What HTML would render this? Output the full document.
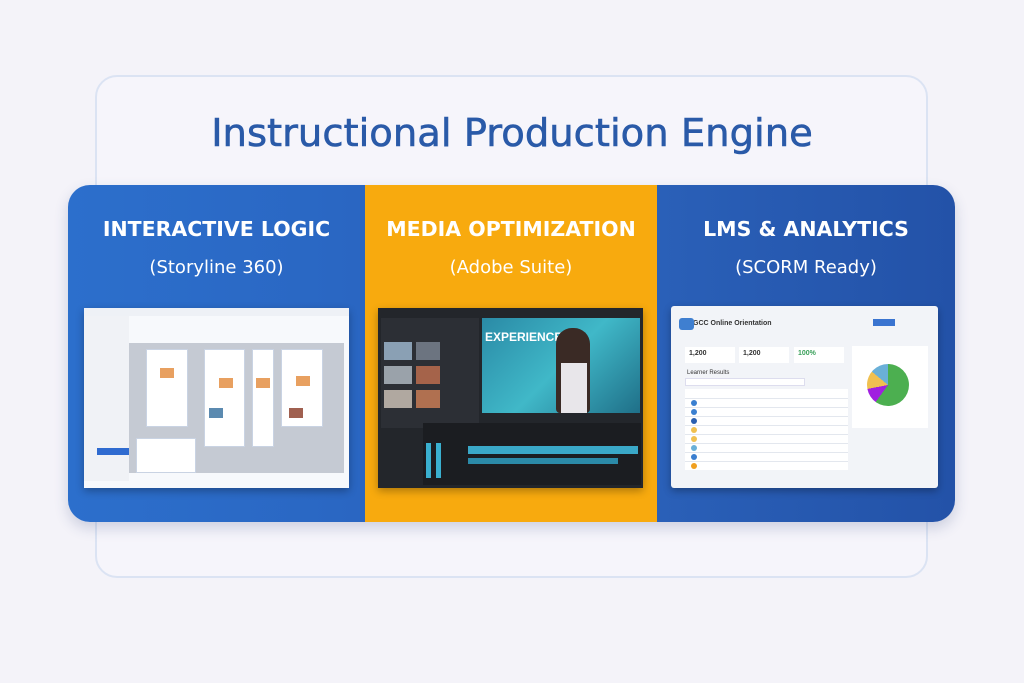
<!DOCTYPE html>
<html><head><meta charset="utf-8"><style>
*{margin:0;padding:0;box-sizing:border-box}
body{width:1024px;height:683px;background:#f4f3f9;position:relative;overflow:hidden;font-family:"Liberation Sans","DejaVu Sans",sans-serif}
.abs{position:absolute}
.outer{left:95px;top:75px;width:833px;height:503px;border:2px solid #dbe3f3;border-radius:22px;background:#f6f5fb}
.title{left:0;width:1024px;top:111px;text-align:center;font-size:38.5px;color:#2a5aa8;font-family:"DejaVu Sans","Liberation Sans",sans-serif;-webkit-text-stroke:0.6px #2a5aa8}
.band{left:68px;top:185px;width:887px;height:337px;border-radius:22px;overflow:hidden;box-shadow:0 6px 14px rgba(40,60,120,.2)}
.p{position:absolute;top:0;height:337px}
.h{position:absolute;width:100%;text-align:center;color:#fff;font-family:"DejaVu Sans",sans-serif;font-weight:bold;font-size:20.5px;top:32px}
.s{position:absolute;width:100%;text-align:center;color:#fff;font-family:"DejaVu Sans",sans-serif;font-size:18px;top:72px}
.shot{position:absolute;box-shadow:0 3px 8px rgba(0,0,0,.3)}
.card{position:absolute;background:#fff;border:1px solid #c9d3e3}
.th{position:absolute;background:#e8a060;width:14px;height:10px}
.row{position:absolute;left:14px;width:163px;height:1px;background:#e3e7ee}
.dot{position:absolute;left:20px;width:6px;height:6px;border-radius:50%}
</style></head><body>
<div class="abs outer"></div>
<div class="abs title">Instructional Production Engine</div>
<div class="abs band">
 <div class="p" style="left:0;width:297px;background:linear-gradient(90deg,#2c6fcc,#2a66c2)">
  <div class="h">INTERACTIVE LOGIC</div><div class="s">(Storyline 360)</div>
  <div class="shot" style="left:16px;top:123px;width:265px;height:180px;background:#f7f9fc">
   <div class="abs" style="left:0;top:0;width:265px;height:8px;background:#eef1f6"></div>
   <div class="abs" style="left:0;top:8px;width:45px;height:165px;background:#f0f2f6"></div>
   <div class="abs" style="left:13px;top:140px;width:32px;height:7px;background:#2f6bd0"></div>
   <div class="abs" style="left:45px;top:35px;width:215px;height:130px;background:#c5cad3"></div>
   <div class="card" style="left:62px;top:41px;width:42px;height:78px"></div>
   <div class="card" style="left:120px;top:41px;width:41px;height:98px"></div>
   <div class="card" style="left:168px;top:41px;width:22px;height:98px"></div>
   <div class="card" style="left:197px;top:41px;width:42px;height:78px"></div>
   <div class="card" style="left:52px;top:130px;width:60px;height:35px"></div>
   <div class="th" style="left:76px;top:60px"></div><div class="th" style="left:135px;top:70px"></div><div class="th" style="left:172px;top:70px"></div><div class="th" style="left:212px;top:68px"></div><div class="th" style="left:125px;top:100px;background:#5b8ab0"></div><div class="th" style="left:205px;top:100px;background:#a06050"></div>
  </div>
 </div>
 <div class="p" style="left:297px;width:292px;background:#f8aa0e">
  <div class="h">MEDIA OPTIMIZATION</div><div class="s">(Adobe Suite)</div>
  <div class="shot" style="left:13px;top:123px;width:265px;height:180px;background:#23262b">
   <div class="abs" style="left:3px;top:10px;width:98px;height:110px;background:#2c2f35"></div>
   <div class="abs" style="left:6px;top:34px;width:28px;height:18px;background:#8aa0b4"></div><div class="abs" style="left:38px;top:34px;width:24px;height:18px;background:#6c7480"></div>
   <div class="abs" style="left:6px;top:58px;width:28px;height:18px;background:#9aa2aa"></div><div class="abs" style="left:38px;top:58px;width:24px;height:18px;background:#a5634a"></div>
   <div class="abs" style="left:6px;top:82px;width:28px;height:18px;background:#b0a8a0"></div><div class="abs" style="left:38px;top:82px;width:24px;height:18px;background:#b07050"></div>
   <div class="abs" style="left:104px;top:10px;width:158px;height:95px;background:linear-gradient(135deg,#2a8aa6,#40b8c8 50%,#1f6f88)"></div>
   <div class="abs" style="left:107px;top:22px;color:#fff;font-weight:bold;font-size:12px">EXPERIENCE</div>
   <div class="abs" style="left:178px;top:20px;width:34px;height:85px;border-radius:16px 16px 4px 4px;background:#3a2a25"></div>
   <div class="abs" style="left:183px;top:55px;width:26px;height:50px;background:#e8e6ea"></div>
   <div class="abs" style="left:45px;top:115px;width:218px;height:62px;background:#1b1d21"></div>
   <div class="abs" style="left:90px;top:138px;width:170px;height:8px;background:#3aa8c8"></div>
   <div class="abs" style="left:90px;top:150px;width:150px;height:6px;background:#2b8aa8"></div>
   <div class="abs" style="left:48px;top:135px;width:5px;height:35px;background:#3ab0d0"></div><div class="abs" style="left:58px;top:135px;width:5px;height:35px;background:#3ab0d0"></div>
  </div>
 </div>
 <div class="p" style="left:589px;width:298px;background:linear-gradient(90deg,#2a60b8,#2352a8)">
  <div class="h">LMS &amp; ANALYTICS</div><div class="s">(SCORM Ready)</div>
  <div class="shot" style="left:14px;top:121px;width:267px;height:182px;background:#f2f4f8;border-radius:3px;font-size:5px;color:#333">
   <div class="abs" style="left:22px;top:14px;font-size:7px;font-weight:bold">GCC Online Orientation</div>
   <div class="abs" style="left:8px;top:12px;width:15px;height:12px;background:#3f7fd0;border-radius:3px"></div>
   <div class="abs" style="left:202px;top:13px;width:22px;height:7px;background:#3a74d0"></div>
   <div class="abs" style="left:14px;top:41px;width:50px;height:16px;background:#fff"></div><div class="abs" style="left:68px;top:41px;width:50px;height:16px;background:#fff"></div><div class="abs" style="left:123px;top:41px;width:50px;height:16px;background:#fff"></div>
   <div class="abs" style="left:18px;top:44px;font-size:7px;font-weight:bold">1,200</div><div class="abs" style="left:72px;top:44px;font-size:7px;font-weight:bold">1,200</div><div class="abs" style="left:127px;top:44px;font-size:7px;font-weight:bold;color:#3aa05a">100%</div>
   <div class="abs" style="left:16px;top:64px;font-size:6px">Learner Results</div>
   <div class="abs" style="left:14px;top:72px;width:120px;height:8px;background:#fff;border:1px solid #dde"></div>
   <div class="abs" style="left:14px;top:83px;width:163px;height:81px;background:#fff"></div>
   <div class="row" style="top:92px"></div><div class="row" style="top:101px"></div><div class="row" style="top:110px"></div><div class="row" style="top:119px"></div><div class="row" style="top:128px"></div><div class="row" style="top:137px"></div><div class="row" style="top:146px"></div><div class="row" style="top:155px"></div>
   <div class="dot" style="top:94px;background:#3a7fd0"></div><div class="dot" style="top:103px;background:#3a7fd0"></div><div class="dot" style="top:112px;background:#2a5fb0"></div><div class="dot" style="top:121px;background:#f0c050"></div><div class="dot" style="top:130px;background:#f0c050"></div><div class="dot" style="top:139px;background:#6ab0d8"></div><div class="dot" style="top:148px;background:#3a7fd0"></div><div class="dot" style="top:157px;background:#f0a020"></div>
   <div class="abs" style="left:181px;top:40px;width:76px;height:82px;background:#fff"></div>
   <div class="abs" style="left:196px;top:58px;width:42px;height:42px;border-radius:50%;background:conic-gradient(#4caf50 0 60%,#a020e0 60% 72%,#f0c050 72% 86%,#6ab0d8 86% 100%)"></div>
  </div>
 </div>
</div>
</body></html>
